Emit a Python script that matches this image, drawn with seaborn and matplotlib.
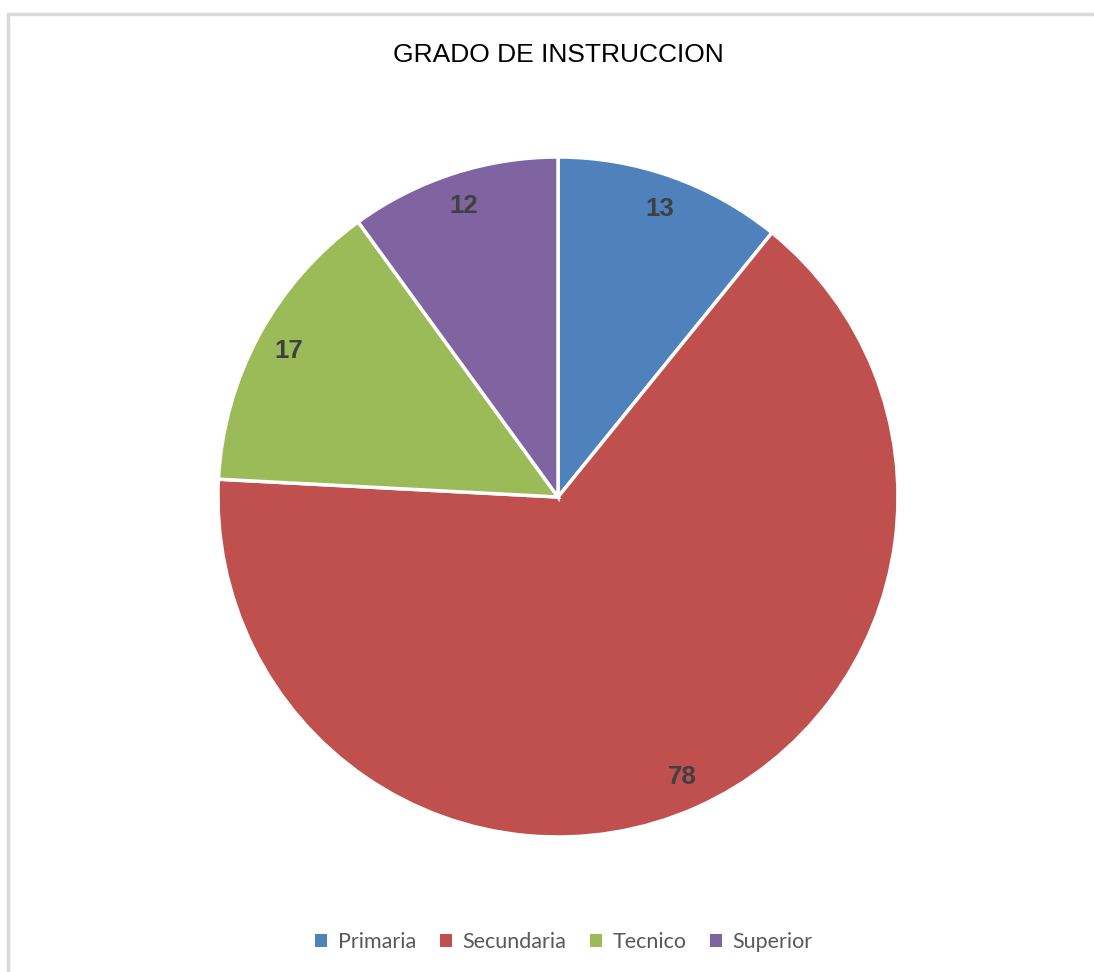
import matplotlib
matplotlib.use("Agg")
import matplotlib.pyplot as plt
from matplotlib.patches import Rectangle
import seaborn as sns

categories = ["Primaria", "Secundaria", "Tecnico", "Superior"]
values = [13, 78, 17, 12]
colors = ["#4F81BD", "#C0504D", "#9BBB59", "#8064A2"]
title = "GRADO DE INSTRUCCION"

sns.set_theme(style="white")
plt.rcParams["font.family"] = ["Lato", "DejaVu Sans"]
palette = sns.color_palette(colors)

W, H = 1094, 972
fig = plt.figure(figsize=(W / 100, H / 100), dpi=100)
fig.patch.set_facecolor("white")

# chart area frame (light gray)
fig.patches.append(Rectangle((8 / W, -0.1), 1.2, (H - 14) / H + 0.1,
                             transform=fig.transFigure, fill=False,
                             edgecolor="#D9D9D9", linewidth=2.5, zorder=0))

cx, cy, r = 558, 497, 340
ax = fig.add_axes([(cx - r) / W, (H - cy - r) / H, 2 * r / W, 2 * r / H])
wedges, _, autotexts = ax.pie(
    values, colors=palette, startangle=90, counterclock=False, radius=1,
    autopct=lambda p: f"{round(p * sum(values) / 100):d}", pctdistance=0.9,
    wedgeprops=dict(edgecolor="white", linewidth=2.5),
    textprops=dict(color="#404040", fontsize=18.5, fontweight="bold",
                   family=["Liberation Sans", "DejaVu Sans"]))
ax.set_xlim(-1.0, 1.0)
ax.set_ylim(-1.0, 1.0)
ax.set_aspect("equal")
ax.axis("off")

fig.text(558 / W, 1 - 55 / H, title, ha="center", va="center",
         fontsize=19, color="black",
         family=["Liberation Sans Narrow", "Liberation Sans", "DejaVu Sans"])

leg = fig.legend(wedges, categories, loc="center", bbox_to_anchor=(564 / W, 1 - 942 / H),
                 ncol=4, frameon=False, fontsize=15.5, handlelength=0.55, handleheight=0.55,
                 handletextpad=0.5, columnspacing=1.1, labelcolor="#595959")
for h in leg.legend_handles:
    h.set_edgecolor("none")

fig.savefig("out.png", dpi=100, facecolor="white")
